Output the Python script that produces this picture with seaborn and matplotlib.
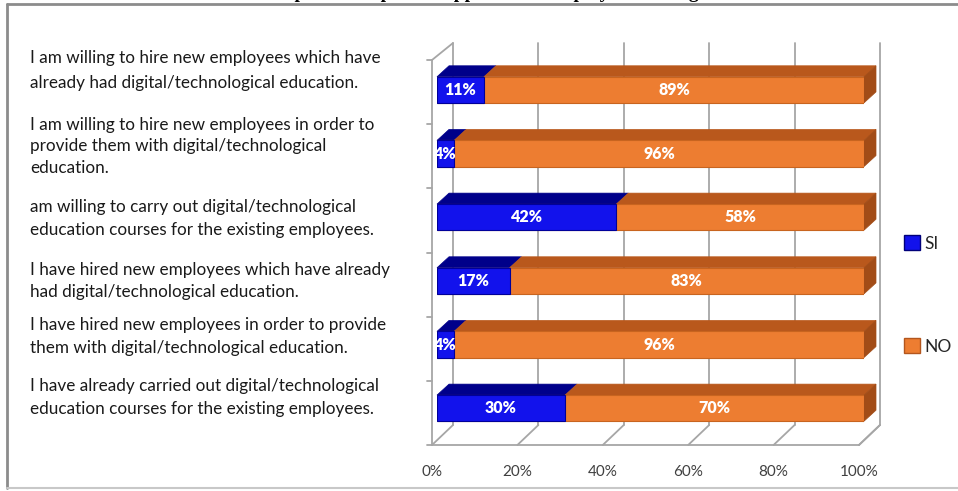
import numpy as np
import pandas as pd
import matplotlib
matplotlib.use("Agg")
import matplotlib.pyplot as plt
from matplotlib.transforms import IdentityTransform
from matplotlib.lines import Line2D
from matplotlib.patches import Patch, Polygon
import seaborn as sns

# data
questions = ["Q1", "Q2", "Q3", "Q4", "Q5", "Q6"]
si = [11, 4, 42, 17, 4, 30]
no = [89, 96, 58, 83, 96, 70]
x_ticks = [0, 20, 40, 60, 80, 100]
x_tick_labels = ["0%", "20%", "40%", "60%", "80%", "100%"]
legend_labels = ["SI", "NO"]
left_texts = [
    ["I am willing to hire new employees which have",
     "already had digital/technological education."],
    ["I am willing to hire new employees in order to",
     "provide them with digital/technological",
     "education."],
    ["am willing to carry out digital/technological",
     "education courses for the existing employees."],
    ["I have hired new employees which have already",
     "had digital/technological education."],
    ["I have hired new employees in order to provide",
     "them with digital/technological education."],
    ["I have already carried out digital/technological",
     "education courses for the existing employees."],
]

df = pd.DataFrame({"q": questions, "si": si, "no": no})
df["total"] = df["si"] + df["no"]

sns.set_style("white")
plt.rcParams['font.family'] = ['Lato', 'DejaVu Sans']

W, H = 958, 491
fig = plt.figure(figsize=(W / 100, H / 100), dpi=100)
fig.patch.set_facecolor("white")

def px(x, y):
    return x / W, 1 - y / H

# axes area in pixels
L, R, T, B = 437, 864, 58, 440
ax = fig.add_axes([L / W, 1 - B / H, (R - L) / W, (B - T) / H])

blue, blue_top = "#1212EC", "#00008A"
orange, orange_top, orange_side = "#ED7D31", "#B9581C", "#A24C17"
bw = 0.41

# front faces
sns.barplot(data=df, x="total", y="q", orient="h", color=orange, width=bw,
            saturation=1, edgecolor="#C8641F", linewidth=0.8, ax=ax, zorder=2)
sns.barplot(data=df, x="si", y="q", orient="h", color=blue, width=bw,
            saturation=1, edgecolor="#00009A", linewidth=0.8, ax=ax, zorder=3)
ax.set_xlim(0, 100)
ax.set_ylim(len(df) - 0.5, -0.5)
ax.axis("off")

# 3D depth: top and side faces built from each bar's data extent
dx, dy = 12, 11
def face(x0, x1, i, kind, color):
    (X0, Yt), (X1, Yb) = ax.transData.transform([(x0, i - bw / 2), (x1, i + bw / 2)])
    if kind == "top":
        pts = [(X0, Yt), (X1, Yt), (X1 + dx, Yt + dy), (X0 + dx, Yt + dy)]
    else:
        pts = [(X1, Yt), (X1, Yb), (X1 + dx, Yb + dy), (X1 + dx, Yt + dy)]
    ax.add_patch(Polygon(pts, closed=True, facecolor=color, edgecolor=color, lw=0.5,
                         transform=IdentityTransform(), clip_on=False, zorder=1))

for i, row in df.iterrows():
    face(0, row["si"], i, "top", blue_top)
    face(row["si"], row["total"], i, "top", orange_top)
    face(row["si"], row["total"], i, "side", orange_side)

# value labels
for i, row in df.iterrows():
    ax.text(row["si"] / 2, i, f"{row['si']}%", ha="center", va="center",
            color="white", fontsize=11.5, fontweight="heavy", zorder=5)
    ax.text(row["si"] + row["no"] / 2, i, f"{row['no']}%", ha="center", va="center",
            color="white", fontsize=11.5, fontweight="heavy", zorder=5)

# 3D frame: back wall, floor, left wall
grid_c = "#A6A6A6"
def xpx(v):
    return L + (R - L) * v / 100

front_floor, back_floor, back_top, front_top = 445, 425, 43, 60
for v in x_ticks:
    xf, xb = xpx(v) - 5, xpx(v) + 16
    fig.add_artist(Line2D(*zip(px(xb, back_floor), px(xb, back_top)), color=grid_c, lw=1.3, zorder=-1))
    fig.add_artist(Line2D(*zip(px(xf, front_floor), px(xb, back_floor)), color=grid_c, lw=1.3, zorder=-1))
fig.add_artist(Line2D(*zip(px(xpx(0) - 5, front_floor), px(xpx(100) - 5, front_floor)), color=grid_c, lw=1.3, zorder=-1))
fig.add_artist(Line2D(*zip(px(xpx(0) - 5, front_floor), px(xpx(0) - 5, front_top)), color=grid_c, lw=1.3, zorder=-1))
fig.add_artist(Line2D(*zip(px(xpx(0) - 5, front_top), px(xpx(0) + 16, back_top)), color=grid_c, lw=1.3, zorder=-1))
fig.add_artist(Line2D(*zip(px(xpx(100) - 5, front_floor), px(xpx(100) + 16, back_floor)), color=grid_c, lw=1.3, zorder=-1))
for y in np.linspace(front_top, front_floor, 7):
    fig.add_artist(Line2D(*zip(px(xpx(0) - 10, y), px(xpx(0) - 5, y)), color=grid_c, lw=1.3, zorder=-1))

for v, lab in zip(x_ticks, x_tick_labels):
    fig.text(*px(xpx(v) - 5, 472), lab, ha="center", va="center", fontsize=11, color="#404040")

# legend
handles = [Patch(facecolor=blue, edgecolor="#00007A"), Patch(facecolor=orange, edgecolor="#B3561D")]
fig.legend(handles, legend_labels, loc="center left", bbox_to_anchor=px(888, 295),
           bbox_transform=fig.transFigure, frameon=False, fontsize=12.5,
           handlelength=0.95, handleheight=0.95, handletextpad=0.25, labelspacing=5.0,
           labelcolor="#262626")

# left texts
line_y = [[58, 83], [125, 146, 168], [207, 230], [270, 292], [325, 348], [386, 409]]
for block, ys in zip(left_texts, line_y):
    for line, y in zip(block, ys):
        fig.text(*px(30, y), line, ha="left", va="center", fontsize=12.3, color="#1a1a1a")

# page frame and cropped title
fc = "#8C8C8C"
fig.add_artist(Line2D(*zip(px(7, 4), px(W, 4)), color=fc, lw=2))
fig.add_artist(Line2D(*zip(px(7, 4), px(7, 488)), color=fc, lw=2))
fig.add_artist(Line2D(*zip(px(7, 488), px(W, 488)), color="#C8C8C8", lw=1.5))
fig.text(*px(480, -2), "Graph 9. Companies' approach to employee training", ha="center", va="baseline",
         fontsize=14, family=["Liberation Serif"], fontweight="bold", color="black")

fig.savefig("out.png", dpi=100)
